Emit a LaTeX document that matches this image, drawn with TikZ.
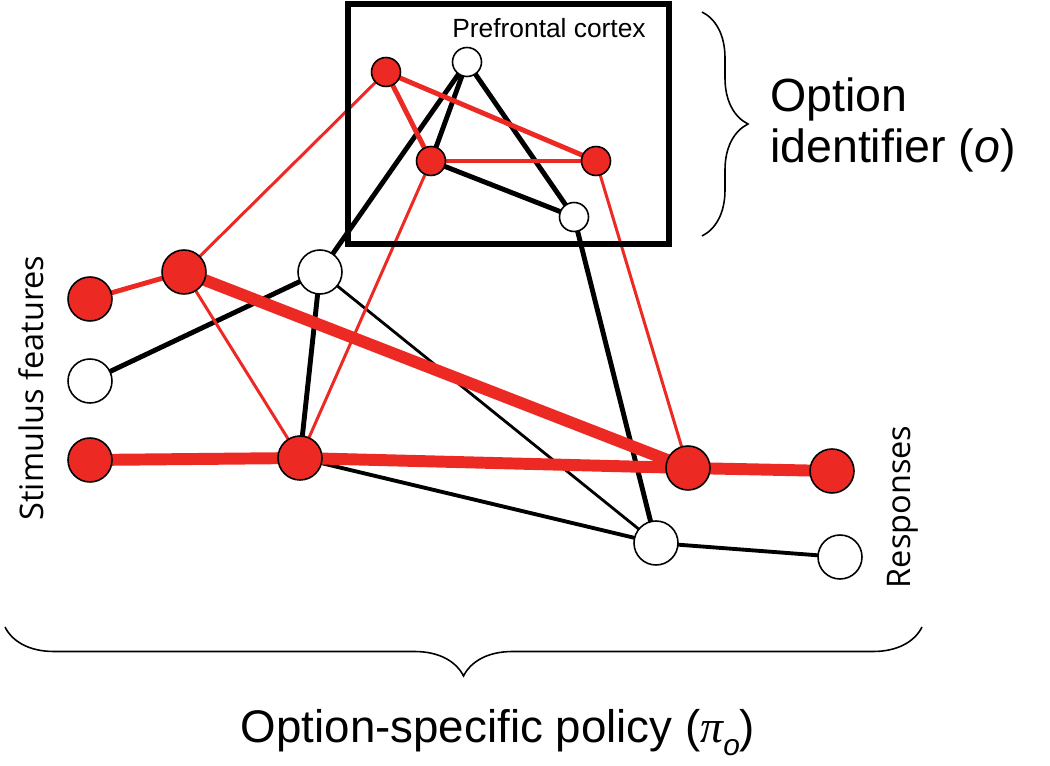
\documentclass[tikz,border=0pt]{standalone}
\usepackage{fontspec}
\setmainfont{Liberation Sans}
\newfontfamily\myriad{Open Sans}
\newfontfamily\tms{Liberation Serif}
\usetikzlibrary{backgrounds,decorations.pathreplacing}
\definecolor{nred}{RGB}{237,41,36}
\begin{document}
\begin{tikzpicture}[x=0.02cm,y=-0.02cm,
  bignode/.style={circle,draw=black,line width=0.9pt,minimum size=0.88cm,inner sep=0pt,outer sep=0pt},
  smallnode/.style={circle,draw=black,line width=0.9pt,minimum size=0.58cm,inner sep=0pt,outer sep=0pt},
  rfill/.style={fill=nred},
  wfill/.style={fill=white},
  redthick/.style={draw=nred,line width=6.8pt},
  redmed/.style={draw=nred,line width=2.8pt},
  redthin/.style={draw=nred,line width=1.7pt},
  blkmed/.style={draw=black,line width=2.8pt},
  blkmid/.style={draw=black,line width=2.2pt},
  blkthin/.style={draw=black,line width=1.6pt},
  bracestyle/.style={draw=black,line width=0.9pt,decorate},
  lbl/.style={inner sep=0pt,outer sep=0pt}
]
\useasboundingbox (0,0) rectangle (1050,766);

% nodes
\node[bignode,rfill] (A) at (90,299) {};
\node[bignode,wfill] (B) at (90,381) {};
\node[bignode,rfill] (C) at (90,460) {};
\node[bignode,rfill] (D) at (184,272) {};
\node[bignode,wfill] (E) at (320,272) {};
\node[bignode,rfill] (F) at (300,458) {};
\node[smallnode,rfill] (G) at (386,72) {};
\node[smallnode,wfill] (H) at (467,62) {};
\node[smallnode,rfill] (I) at (431,161) {};
\node[smallnode,rfill] (J) at (596,161) {};
\node[smallnode,wfill] (K) at (574,217) {};
\node[bignode,rfill] (L) at (688,468) {};
\node[bignode,rfill] (M) at (832,471) {};
\node[bignode,wfill] (N) at (656,543) {};
\node[bignode,wfill] (O) at (840,557) {};

% edges
\begin{scope}[on background layer]
  \draw[blkthin] (E.center) -- (N.center);
  \draw[blkmid] (F.center) -- (N.center);
  \draw[blkmid] (N.center) -- (O.center);
  \draw[blkmed] (B.center) -- (E.center);
  \draw[blkmed] (E.center) -- (F.center);
  \draw[blkmed] (E.center) -- (H.center);
  \draw[blkmed] (H.center) -- (I.center);
  \draw[blkmed] (H.center) -- (K.center);
  \draw[blkmed] (I.center) -- (K.center);
  \draw[blkmed] (K.center) -- (N.center);
  \draw[redthin] (D.center) -- (G.center);
  \draw[redthin] (D.center) -- (F.center);
  \draw[redthin] (F.center) -- (I.center);
  \draw[redthin] (J.center) -- (L.center);
  \draw[redmed] (A.center) -- (D.center);
  \draw[redmed] (G.center) -- (I.center);
  \draw[redmed] (G.center) -- (J.center);
  \draw[redmed] (I.center) -- (J.center);
  \draw[redthick] (C.center) -- (F.center);
  \draw[redthick] (F.center) -- (L.center);
  \draw[redthick] (D.center) -- (L.center);
  \draw[redthick] (L.center) -- (M.center);
\end{scope}

% prefrontal box
\draw[line width=3.4pt] (348,4) rectangle (669,244);
\node[lbl,font=\fontsize{15}{18}\selectfont] (pfc) at (549,28) {Prefrontal cortex};

% braces
\coordinate (rb1) at (702,12);
\coordinate (rb2) at (702,236);
\draw[bracestyle,decoration={brace,amplitude=0.92cm}] (rb1) -- (rb2);
\coordinate (bb1) at (922,627);
\coordinate (bb2) at (5,627);
\draw[bracestyle,decoration={brace,amplitude=0.98cm}] (bb1) -- (bb2);

% labels
\node[lbl,anchor=base west,font=\fontsize{26.5}{30}\selectfont] (opt1) at (770,112) {Option};
\node[lbl,anchor=base west,font=\fontsize{26.5}{30}\selectfont] (opt2) at (770,163) {identifier (\textit{o})};
\node[lbl,anchor=base,font=\fontsize{26}{30}\selectfont] (pol) at (498,742) {Option-specific policy ({\tms\itshape π}\raisebox{-0.3em}{\fontsize{17}{17}\selectfont\itshape o})};
\node[lbl,rotate=90,anchor=base,font=\myriad\fontsize{18.5}{22}\selectfont] (stim) at (43,388) {Stimulus features};
\node[lbl,rotate=90,anchor=base,font=\myriad\fontsize{18.5}{22}\selectfont] (resp) at (910,507) {Responses};
\end{tikzpicture}
\end{document}
